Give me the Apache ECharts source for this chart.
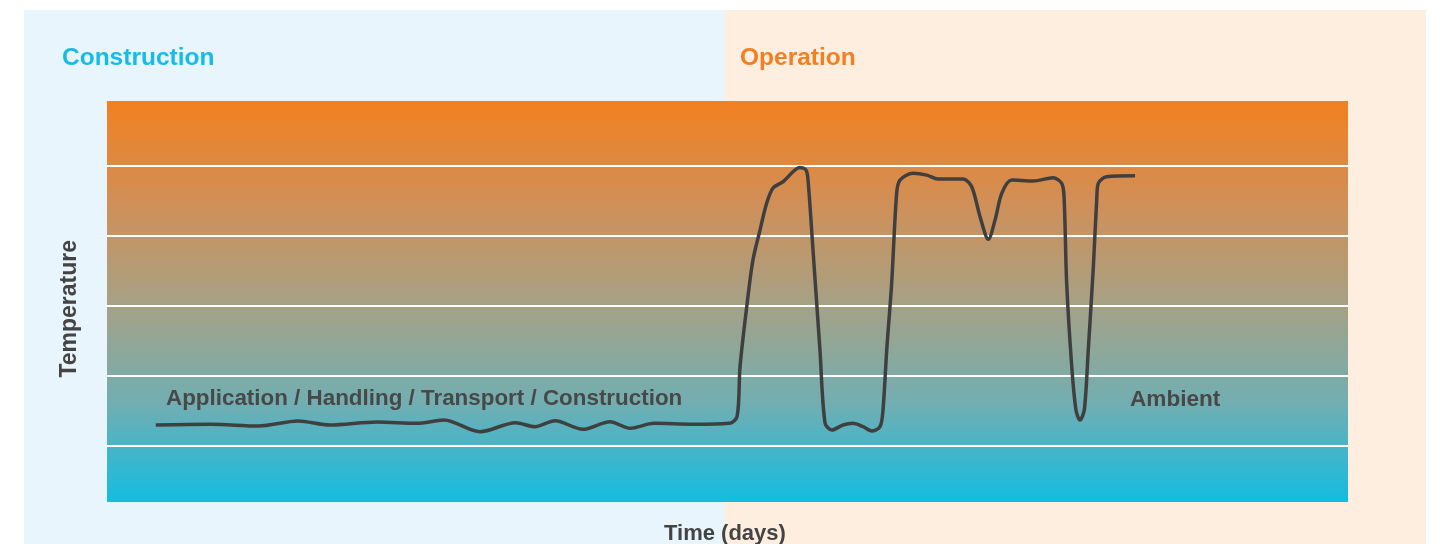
<!DOCTYPE html>
<html>
<head>
    <meta charset="utf-8"/>
    <title>Temperature over time</title>
    <script src="https://cdn.jsdelivr.net/npm/echarts@6/dist/echarts.min.js"></script>
    <style>
        html, body { margin: 0; padding: 0; background: #fff; }
        #chart { width: 1440px; height: 544px; }
    </style>
</head>
<body>
<div id="chart"></div>
<script type="text/javascript">
    // time in days, temperature in arbitrary units
    let days = [3.93, 8.38, 12.22, 15.39, 17.95, 21.76, 24.96, 27.16, 30.06, 32.92, 34.49, 36.10, 38.33, 40.53, 42.14, 44.08, 47.22, 50.12, 50.77,
        51.01, 51.55, 52.05, 52.62, 53.16, 53.67, 54.47, 55.84, 56.33, 56.49, 56.89, 57.45, 57.86, 58.40, 59.31, 60.11, 60.92, 61.62, 62.29,
        62.53, 62.83, 63.23, 63.63, 63.90, 64.95, 66.05, 66.96, 68.98, 69.68, 70.35, 71.02, 71.56, 72.10, 72.90, 74.62, 76.23, 76.93,
        77.12, 77.33, 77.74, 78.08, 78.40, 78.75, 79.07, 79.48, 79.75, 79.88, 80.56, 82.84];
    let temps = [11.0, 11.1, 10.86, 11.57, 11.0, 11.43, 11.24, 11.71, 10.04, 11.33, 10.76, 11.61, 10.39, 11.47, 10.53, 11.24, 11.1, 11.24, 12.19,
        19.33, 27.9, 34.57, 38.86, 42.71, 44.86, 45.76, 47.81, 47.43, 46.0, 36.0, 21.71, 11.29, 10.29, 11.0, 11.24, 10.76, 10.14, 10.76,
        13.14, 21.71, 31.29, 44.14, 46.0, 46.96, 46.71, 46.14, 46.14, 45.04, 40.76, 37.53, 40.29, 44.1, 46.0, 45.86, 46.33, 45.53,
        43.62, 31.29, 19.33, 13.14, 11.71, 13.14, 21.71, 33.61, 43.14, 45.53, 46.47, 46.61];
    let gridValues = [8, 18, 28, 38, 48];
    let dayRange = [0, 100];
    let tempRange = [0, 57.3];

    let chart = echarts.init(document.getElementById('chart'), null, {renderer: 'canvas'});
    let font = '"Liberation Sans", Arial, sans-serif';

    chart.setOption({
        animation: false,
        grid: {left: 107, right: 92, top: 101, bottom: 42},
        xAxis: {
            type: 'value', min: dayRange[0], max: dayRange[1],
            axisLine: {show: false}, axisTick: {show: false}, axisLabel: {show: false}, splitLine: {show: false}
        },
        yAxis: {
            type: 'value', min: tempRange[0], max: tempRange[1],
            axisLine: {show: false}, axisTick: {show: false}, axisLabel: {show: false}, splitLine: {show: false}
        },
        graphic: [
            {type: 'rect', z: -10, shape: {x: 24, y: 10, width: 701, height: 534}, style: {fill: '#E8F5FC'}},
            {type: 'rect', z: -10, shape: {x: 725, y: 10, width: 701, height: 534}, style: {fill: '#FEEEE0'}},
            {type: 'text', left: 62, top: 46, style: {text: 'Construction', fill: '#17BBE8', font: 'bold 24.5px ' + font}},
            {type: 'text', left: 740, top: 46, style: {text: 'Operation', fill: '#F37F22', font: 'bold 24.5px ' + font}},
            {type: 'text', left: 58, top: 240, rotation: Math.PI / 2, style: {text: 'Temperature', fill: '#444', font: 'bold 23px ' + font}},
            {type: 'text', left: 664, top: 523, style: {text: 'Time (days)', fill: '#444', font: 'bold 22px ' + font}},
            {type: 'text', left: 166, top: 388, z: 10, style: {text: 'Application / Handling / Transport / Construction', fill: '#484848', font: 'bold 22.4px ' + font}},
            {type: 'text', left: 1130, top: 388, z: 10, style: {text: 'Ambient', fill: '#484848', font: 'bold 22.6px ' + font}}
        ],
        series: [{
            type: 'line',
            data: days.map((d, i) => [d, temps[i]]),
            showSymbol: false,
            smooth: 0.3,
            z: 5,
            lineStyle: {color: '#3f3f3f', width: 3.5},
            markArea: {
                silent: true,
                itemStyle: {
                    color: new echarts.graphic.LinearGradient(0, 0, 0, 1, [
                        {offset: 0, color: '#F28020'},
                        {offset: 0.25, color: '#D18F57'},
                        {offset: 0.5, color: '#A7A184'},
                        {offset: 0.75, color: '#73AEB1'},
                        {offset: 1, color: '#14BCE2'}
                    ])
                },
                data: [[{coord: [dayRange[0], tempRange[1]]}, {coord: [dayRange[1], tempRange[0]]}]]
            },
            markLine: {
                silent: true,
                symbol: 'none',
                label: {show: false},
                lineStyle: {color: '#ffffff', width: 2, type: 'solid'},
                data: gridValues.map(v => ({yAxis: v}))
            }
        }]
    });
</script>
</body>
</html>
